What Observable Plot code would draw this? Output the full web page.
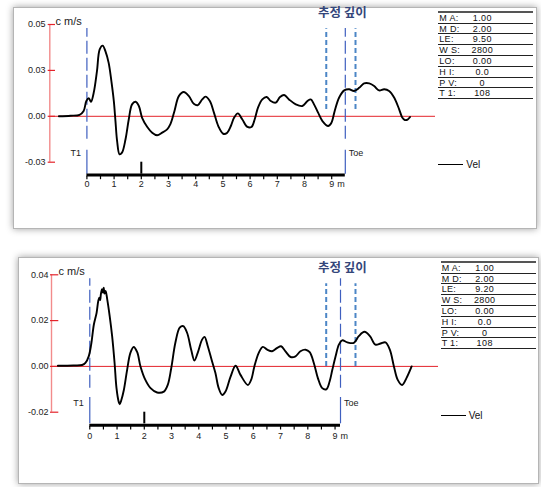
<!DOCTYPE html>
<html>
<head>
<meta charset="utf-8">
<script src="https://cdn.jsdelivr.net/npm/d3@7"></script>
<script src="https://cdn.jsdelivr.net/npm/@observablehq/plot@0.6"></script>
<style>
html, body { margin: 0; padding: 0; background: #fff; }
body { width: 541px; height: 487px; position: relative; overflow: hidden; font-family: "Liberation Sans", Arial, sans-serif; }
.frame { position: absolute; background: #fff; border: 1px solid #b5b5b5; box-shadow: 0 0 7px rgba(0,0,0,0.38); box-sizing: border-box; }
.svgwrap { position: absolute; left: 0; }
.tbl { position: absolute; width: 95px; border-top: 2px solid #555; font-size: 9px; color: #111; }
.tbl .row { position: relative; height: 10.83px; box-sizing: border-box; border-bottom: 1px solid #222; }
.tbl .lab { position: absolute; left: 1px; top: 1px; line-height: 9px; letter-spacing: 0.3px; }
.tbl .val { position: absolute; left: 44px; top: 1px; line-height: 9px; transform: translateX(-50%); letter-spacing: 0.4px; }
.legend { position: absolute; font-size: 10px; color: #111; display: flex; align-items: center; }
.legend .sw { width: 25px; height: 0; border-top: 1px solid #000; margin-right: 3px; }
</style>
</head>
<body>
<div id="root"></div>
<script>
// ---------- data ----------
const paramLabels = ["M A:", "M D:", "LE:", "W S:", "LO:", "H I:", "P V:", "T 1:"];
const params1 = ["1.00", "2.00", "9.50", "2800", "0.00", "0.0", "0", "108"];
const params2 = ["1.00", "2.00", "9.20", "2800", "0.00", "0.0", "0", "108"];

const yTickValues1 = [-0.025, 0, 0.025, 0.05];
const yTickLabels1 = ["-0.03", "0.00", "0.03", "0.05"];
const yTickValues2 = [-0.02, 0, 0.02, 0.04];
const yTickLabels2 = ["-0.02", "0.00", "0.02", "0.04"];

const distTicks = [0, 1, 2, 3, 4, 5, 6, 7, 8, 9];
const distMinorTicks = [0, 0.5, 1, 1.5, 2, 2.5, 3, 3.5, 4, 4.5, 5, 5.5, 6, 6.5, 7, 7.5, 8, 8.5, 9];
const markerTick = [2];
const distUnit = "m";
const velUnit = "c m/s";
const estLabel = "추정 깊이";
const seriesName = "Vel";

const le1 = 9.5;
const le2 = 9.2;
const est1 = [8.80, 9.875];
const est2 = [8.675, 9.75];

// panel 1 : distance (m) and velocity (cm/s)
const dist1 = [-1.03, -0.6, -0.27, -0.12, -0.02, 0.07, 0.15, 0.25, 0.37, 0.47, 0.58, 0.68, 0.80, 0.90, 0.99,
  1.05, 1.11, 1.20, 1.29, 1.42, 1.54, 1.66, 1.79, 1.91, 2.03, 2.22, 2.40, 2.58, 2.77, 2.95, 3.07, 3.22, 3.38,
  3.56, 3.75, 3.93, 4.08, 4.24, 4.36, 4.52, 4.67, 4.83, 5.01, 5.16, 5.30, 5.41, 5.55, 5.71, 5.90, 6.05, 6.17,
  6.29, 6.45, 6.61, 6.76, 6.94, 7.10, 7.25, 7.43, 7.68, 7.92, 8.11, 8.23, 8.35, 8.50, 8.66, 8.87, 8.99, 9.11,
  9.27, 9.46, 9.64, 9.82, 10.01, 10.19, 10.38, 10.56, 10.74, 10.93, 11.11, 11.30, 11.48, 11.60, 11.69, 11.79, 11.88];
const vel1 = [0, 0.0003, 0.0008, 0.0029, 0.0083, 0.0098, 0.0079, 0.0128, 0.0246, 0.0364, 0.0385, 0.0355, 0.0291, 0.0192, 0.0083,
  -0.0026, -0.0134, -0.0207, -0.0198, -0.0125, -0.0016, 0.0065, 0.0079, 0.0056, -0.0008, -0.0058, -0.0089, -0.0103, -0.0089, -0.0071, -0.0043, 0.0029, 0.011,
  0.0132, 0.011, 0.0068, 0.0061, 0.0092, 0.0107, 0.0083, 0.002, -0.0053, -0.0095, -0.0089, -0.005, -0.0008, 0.0016, -0.0016, -0.0058, -0.0058, -0.0016,
  0.0047, 0.0092, 0.0105, 0.0083, 0.0074, 0.0105, 0.0116, 0.0092, 0.0065, 0.0056, 0.0083, 0.0092, 0.0065, 0.002, -0.0026, -0.0053, -0.0035, 0.0029,
  0.0101, 0.0141, 0.0147, 0.0138, 0.0155, 0.0179, 0.0179, 0.0165, 0.0141, 0.0147, 0.0138, 0.0101, 0.0038, -0.0008, -0.002, -0.0018, -0.0004];

// panel 2 : distance (m) and velocity (cm/s)
const dist2 = [-1.17, -0.6, -0.28, -0.16, -0.04, 0.05, 0.15, 0.25, 0.31, 0.35, 0.38, 0.41, 0.45, 0.48, 0.51, 0.54, 0.58,
  0.64, 0.73, 0.82, 0.91, 0.98, 1.06, 1.10, 1.15, 1.25, 1.37, 1.49, 1.61, 1.74, 1.86, 2.04, 2.23, 2.47, 2.72, 2.86,
  2.99, 3.14, 3.30, 3.43, 3.57, 3.72, 3.84, 3.96, 4.12, 4.21, 4.33, 4.47, 4.61, 4.73, 4.86, 4.98, 5.16, 5.35, 5.53,
  5.80, 5.92, 6.04, 6.20, 6.35, 6.51, 6.69, 6.88, 7.02, 7.18, 7.37, 7.55, 7.73, 7.92, 8.07, 8.22, 8.37, 8.53, 8.68,
  8.80, 8.90, 9.02, 9.14, 9.26, 9.45, 9.69, 9.87, 10.08, 10.28, 10.48, 10.67, 10.85, 11.01, 11.16, 11.30, 11.46, 11.62, 11.81];
const vel2 = [0.0003, 0.0004, 0.0006, 0.0015, 0.0044, 0.0095, 0.0183, 0.0234, 0.0285, 0.0300, 0.0290, 0.0318, 0.0337, 0.0322, 0.0344, 0.0318, 0.033,
  0.0293, 0.022, 0.0132, 0.0015, -0.0095, -0.0154, -0.0165, -0.0150, -0.0103, -0.0015, 0.0059, 0.0085, 0.0062, 0, -0.0059, -0.0095, -0.0114, -0.011, -0.0081,
  -0.0007, 0.0103, 0.0169, 0.0176, 0.0147, 0.0073, 0.0026, 0.0059, 0.0117, 0.0129, 0.0088, 0.0029, -0.0029, -0.0095, -0.0125, -0.011, -0.0047, 0.0003, -0.0037,
  -0.0081, -0.0059, 0, 0.0059, 0.0085, 0.0073, 0.0066, 0.0081, 0.0088, 0.0066, 0.0041, 0.0044, 0.0066, 0.0073, 0.0062, 0.0015, -0.0051, -0.0095, -0.01,
  -0.0066, -0.0015, 0.0044, 0.0095, 0.0114, 0.0105, 0.0103, 0.0132, 0.0151, 0.0132, 0.0095, 0.01, 0.0105, 0.0073, 0, -0.0059, -0.0081, -0.0051, 0];

// ---------- layout (positions only) ----------
const layout1 = {
  frame: {left: 13, top: 7, width: 524, height: 222},
  svgTop: 0, height: 245, mt: 24, mb: 83.3, ml: 49.3, mr: 106, xDomain: [-1.364, 12.816],
  guideTop: 0.0478, guideBottom: -0.0125, estTop: 0.0477, estBottom: 0.0037,
  solidDy: -12, solidSize: 24, rulerDy: 12.8, minorDy: 14, labPad: 18.4, bigTick: 12,
  yTick: 7.3, yTickDx: 5.7, yLabPad: 4.3, unitDx: 5.7, unitDy: -7.3,
  table: {left: 438.3, top: 10.7}, legend: {left: 438.3, top: 164.3}
};
const layout2 = {
  frame: {left: 18, top: 256.5, width: 521, height: 227.5},
  svgTop: 245, height: 242, mt: 29.3, mb: 75.3, ml: 51, mr: 103, xDomain: [-1.405, 12.796],
  guideTop: 0.0383, guideBottom: -0.0095, estTop: 0.0361, estBottom: 0.0,
  solidDy: -14.7, solidSize: 26.3, rulerDy: 13, minorDy: 14.3, labPad: 20.1, bigTick: 11.7,
  yTick: 8.3, yTickDx: 7.3, yLabPad: 3, unitDx: 7, unitDy: -7.6,
  table: {left: 440.7, top: 260.7}, legend: {left: 440.7, top: 415}
};

const root = document.getElementById("root");

function drawPanel(dist, vel, yTickValues, yTickLabels, le, est, params, L) {
  const data = dist.map((d, i) => ({dist: d, vel: vel[i]}));
  const yMin = yTickValues[0], yMax = yTickValues[yTickValues.length - 1];
  const red = "#e4232b", pink = "#f28b8b", blue = "#3f5fbf", estBlue = "#4c86c6";

  const frame = document.createElement("div");
  frame.className = "frame";
  Object.assign(frame.style, {left: L.frame.left + "px", top: L.frame.top + "px", width: L.frame.width + "px", height: L.frame.height + "px"});
  root.appendChild(frame);

  const chart = Plot.plot({
    width: 541, height: L.height,
    marginTop: L.mt, marginBottom: L.mb, marginLeft: L.ml, marginRight: L.mr,
    x: {domain: L.xDomain, axis: null},
    y: {domain: [yMin, yMax], axis: null},
    style: {background: "transparent", overflow: "visible", fontFamily: "'Liberation Sans', Arial, sans-serif", fontSize: "9px", color: "#222"},
    marks: [
      Plot.ruleY([0], {stroke: red, strokeWidth: 1}),
      Plot.ruleX([L.xDomain[0]], {y1: yMin, y2: yMax, stroke: pink, strokeWidth: 1.4}),
      Plot.axisY(yTickValues, {anchor: "left", tickSize: L.yTick, dx: L.yTickDx, tickFormat: () => "", stroke: red, strokeWidth: 1.2, label: null}),
      Plot.axisY(yTickValues, {anchor: "left", tickSize: 0, tickPadding: L.yLabPad, tickFormat: d => yTickLabels[yTickValues.indexOf(d)], fill: "#222", fontSize: 9, label: null}),
      Plot.text([velUnit], {frameAnchor: "top-left", dx: L.unitDx, dy: L.unitDy, textAnchor: "start", fontSize: 11, fill: "#222"}),
      // estimated depth range
      Plot.ruleX(est, {y1: L.estBottom, y2: L.estTop, stroke: estBlue, strokeWidth: 2, strokeDasharray: "5,3"}),
      Plot.text([estLabel], {x: () => (est[0] + est[1]) / 2, y: () => L.estTop, dy: -15.6, dx: 1.5, fontSize: 12.5, fontWeight: "bold", fill: "#34467a", fontFamily: "'Noto Sans CJK KR', sans-serif"}),
      // T1 and Toe guides
      Plot.ruleX([0, le], {y1: L.guideBottom, y2: L.guideTop, stroke: blue, strokeWidth: 1.2, strokeDasharray: "13,4"}),
      Plot.axisX([0, le], {anchor: "bottom", tickSize: L.solidSize, dy: L.solidDy, tickFormat: () => "", stroke: blue, strokeWidth: 1.2, label: null}),
      Plot.text(["T1"], {x: () => 0, frameAnchor: "bottom", dy: -6.7, dx: -6, textAnchor: "end", fontSize: 9, fill: "#222"}),
      Plot.text(["Toe"], {x: () => le, frameAnchor: "bottom", dy: -6.7, dx: 3.5, textAnchor: "start", fontSize: 9, fill: "#222"}),
      // distance ruler
      Plot.axisX(markerTick, {anchor: "bottom", tickSize: L.bigTick, tickFormat: () => "", stroke: "#000", strokeWidth: 2, label: null}),
      Plot.ruleY([yMin], {x1: () => 0, x2: () => le, dy: L.rulerDy, stroke: "#000", strokeWidth: 3}),
      Plot.axisX(distMinorTicks, {anchor: "bottom", tickSize: 3.5, dy: L.minorDy, tickFormat: () => "", stroke: "#000", strokeWidth: 1.2, label: null}),
      Plot.axisX(distTicks, {anchor: "bottom", tickSize: 0, tickPadding: L.labPad, fontSize: 9, fill: "#222", label: null}),
      Plot.text([distUnit], {x: () => distTicks[distTicks.length - 1], frameAnchor: "bottom", lineAnchor: "top", dy: L.labPad, dx: 5.5, textAnchor: "start", fontSize: 9, fill: "#222"}),
      // velocity trace
      Plot.line(data, {x: "dist", y: "vel", stroke: "#000", strokeWidth: 1.9, curve: "catmull-rom"})
    ]
  });
  const wrap = document.createElement("div");
  wrap.className = "svgwrap";
  wrap.style.top = L.svgTop + "px";
  wrap.appendChild(chart);
  root.appendChild(wrap);

  // parameter table
  const tbl = document.createElement("div");
  tbl.className = "tbl";
  tbl.style.left = L.table.left + "px";
  tbl.style.top = L.table.top + "px";
  paramLabels.forEach((lab, i) => {
    const row = document.createElement("div");
    row.className = "row";
    const a = document.createElement("span"); a.className = "lab"; a.textContent = lab;
    const b = document.createElement("span"); b.className = "val"; b.textContent = params[i];
    row.appendChild(a); row.appendChild(b);
    tbl.appendChild(row);
  });
  root.appendChild(tbl);

  // legend
  const lg = document.createElement("div");
  lg.className = "legend";
  lg.style.left = L.legend.left + "px";
  lg.style.top = (L.legend.top - 6) + "px";
  lg.style.height = "12px";
  const sw = document.createElement("span"); sw.className = "sw";
  const tx = document.createElement("span"); tx.textContent = seriesName;
  lg.appendChild(sw); lg.appendChild(tx);
  root.appendChild(lg);
}

drawPanel(dist1, vel1, yTickValues1, yTickLabels1, le1, est1, params1, layout1);
drawPanel(dist2, vel2, yTickValues2, yTickLabels2, le2, est2, params2, layout2);
</script>
</body>
</html>
